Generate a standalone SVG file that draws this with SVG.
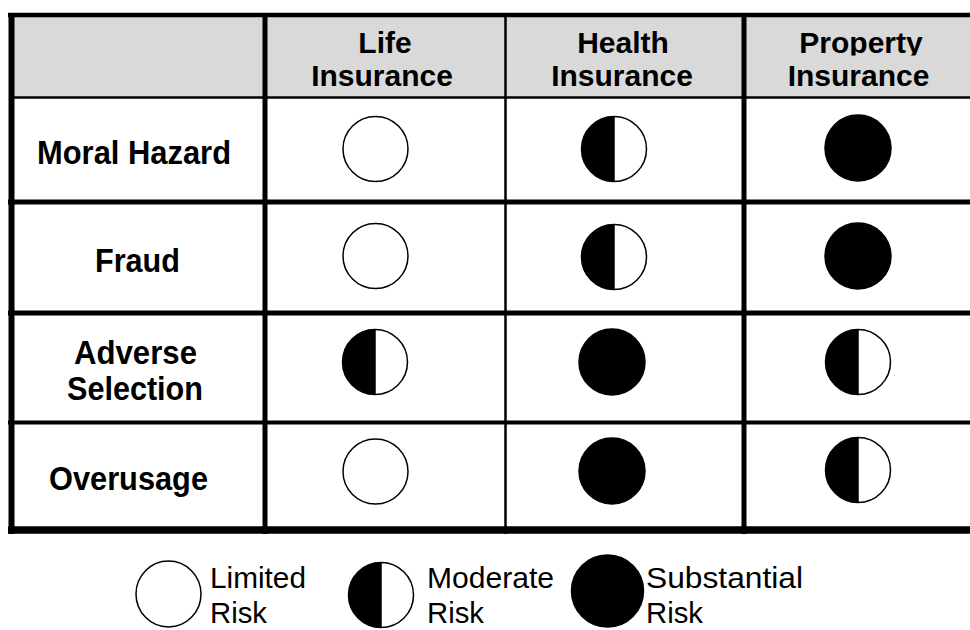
<svg xmlns="http://www.w3.org/2000/svg" xmlns:xlink="http://www.w3.org/1999/xlink" width="970" height="630" viewBox="0 0 970 630">
  <style>
    .hdr { font-family: "Liberation Sans", Arial, sans-serif; font-weight: bold; font-size: 30px; fill: #000; text-anchor: middle; }
    .lbl { font-family: "Liberation Sans", Arial, sans-serif; font-weight: bold; font-size: 32.5px; fill: #000; }
    .leg { font-family: "Liberation Sans", Arial, sans-serif; font-size: 30px; fill: #000; }
    .ln { stroke: #000; fill: none; }
    .ring { fill: #fff; stroke: #000; stroke-width: 1.5; }
    .solid { fill: #000; stroke: #000; stroke-width: 1.5; }
  </style>
  <defs>
    <clipPath id="hdrclip"><rect x="0" y="0" width="970" height="55.5"/></clipPath>
    <g id="limited"><circle class="ring" cx="0" cy="0" r="32.5"/></g>
    <g id="moderate">
      <circle class="ring" cx="0" cy="0" r="32.5"/>
      <path d="M0,-32.5 A32.5,32.5 0 0 0 0,32.5 Z" fill="#000"/>
      <line x1="0" y1="-32.5" x2="0" y2="32.5" stroke="#000" stroke-width="1.5"/>
    </g>
    <g id="substantial"><circle class="solid" cx="0" cy="0" r="33"/></g>
  </defs>

  <rect x="0" y="0" width="970" height="630" fill="#fff"/>

  <g id="header">
    <rect x="14" y="17" width="956" height="80" fill="#d9d9d9"/>
    <text class="hdr" x="385" y="53">Life</text>
    <text class="hdr" x="382" y="86">Insurance</text>
    <text class="hdr" x="623" y="53">Health</text>
    <text class="hdr" x="622" y="86">Insurance</text>
    <text class="hdr" x="861" y="53" clip-path="url(#hdrclip)">Property</text>
    <text class="hdr" x="858.5" y="86">Insurance</text>
  </g>

  <g id="grid">
    <line class="ln" x1="8" y1="15" x2="970" y2="15" stroke-width="4.5"/>
    <line class="ln" x1="14" y1="97.5" x2="970" y2="97.5" stroke-width="2.5"/>
    <line class="ln" x1="8" y1="202" x2="970" y2="202" stroke-width="5"/>
    <line class="ln" x1="8" y1="313" x2="970" y2="313" stroke-width="5"/>
    <line class="ln" x1="8" y1="422.5" x2="970" y2="422.5" stroke-width="4"/>
    <line class="ln" x1="8" y1="530" x2="970" y2="530" stroke-width="7.5"/>
    <line class="ln" x1="11.5" y1="13" x2="11.5" y2="534" stroke-width="6"/>
    <line class="ln" x1="265" y1="13" x2="265" y2="534" stroke-width="5"/>
    <line class="ln" x1="505.5" y1="13" x2="505.5" y2="534" stroke-width="2.5"/>
    <line class="ln" x1="744" y1="13" x2="744" y2="534" stroke-width="5"/>
  </g>

  <g id="row-moral-hazard">
    <text class="lbl" x="37" y="164" textLength="194" lengthAdjust="spacingAndGlyphs">Moral Hazard</text>
    <use xlink:href="#limited" x="375.5" y="149"/>
    <use xlink:href="#moderate" x="614" y="149"/>
    <use xlink:href="#substantial" x="858" y="148"/>
  </g>

  <g id="row-fraud">
    <text class="lbl" x="95" y="272" textLength="85" lengthAdjust="spacingAndGlyphs">Fraud</text>
    <use xlink:href="#limited" x="375.5" y="256"/>
    <use xlink:href="#moderate" x="614" y="257"/>
    <use xlink:href="#substantial" x="858" y="256"/>
  </g>

  <g id="row-adverse-selection">
    <text class="lbl" x="74" y="364" textLength="123" lengthAdjust="spacingAndGlyphs">Adverse</text>
    <text class="lbl" x="67" y="400" textLength="136" lengthAdjust="spacingAndGlyphs">Selection</text>
    <use xlink:href="#moderate" x="375" y="362"/>
    <use xlink:href="#substantial" x="612" y="362"/>
    <use xlink:href="#moderate" x="858" y="362"/>
  </g>

  <g id="row-overusage">
    <text class="lbl" x="49" y="490" textLength="159" lengthAdjust="spacingAndGlyphs">Overusage</text>
    <use xlink:href="#limited" x="375.5" y="471.5"/>
    <use xlink:href="#substantial" x="612" y="471"/>
    <use xlink:href="#moderate" x="858" y="470"/>
  </g>

  <g id="legend-limited">
    <ellipse class="ring" cx="168.5" cy="594" rx="32.5" ry="33"/>
    <text class="leg" x="210" y="588" textLength="96" lengthAdjust="spacingAndGlyphs">Limited</text>
    <text class="leg" x="210" y="623" textLength="57" lengthAdjust="spacingAndGlyphs">Risk</text>
  </g>

  <g id="legend-moderate">
    <use xlink:href="#moderate" x="381" y="595"/>
    <text class="leg" x="427" y="588" textLength="127" lengthAdjust="spacingAndGlyphs">Moderate</text>
    <text class="leg" x="427" y="623" textLength="57" lengthAdjust="spacingAndGlyphs">Risk</text>
  </g>

  <g id="legend-substantial">
    <ellipse class="solid" cx="607.5" cy="591" rx="36" ry="36"/>
    <text class="leg" x="646" y="588" textLength="157" lengthAdjust="spacingAndGlyphs">Substantial</text>
    <text class="leg" x="646" y="623" textLength="57" lengthAdjust="spacingAndGlyphs">Risk</text>
  </g>
</svg>
